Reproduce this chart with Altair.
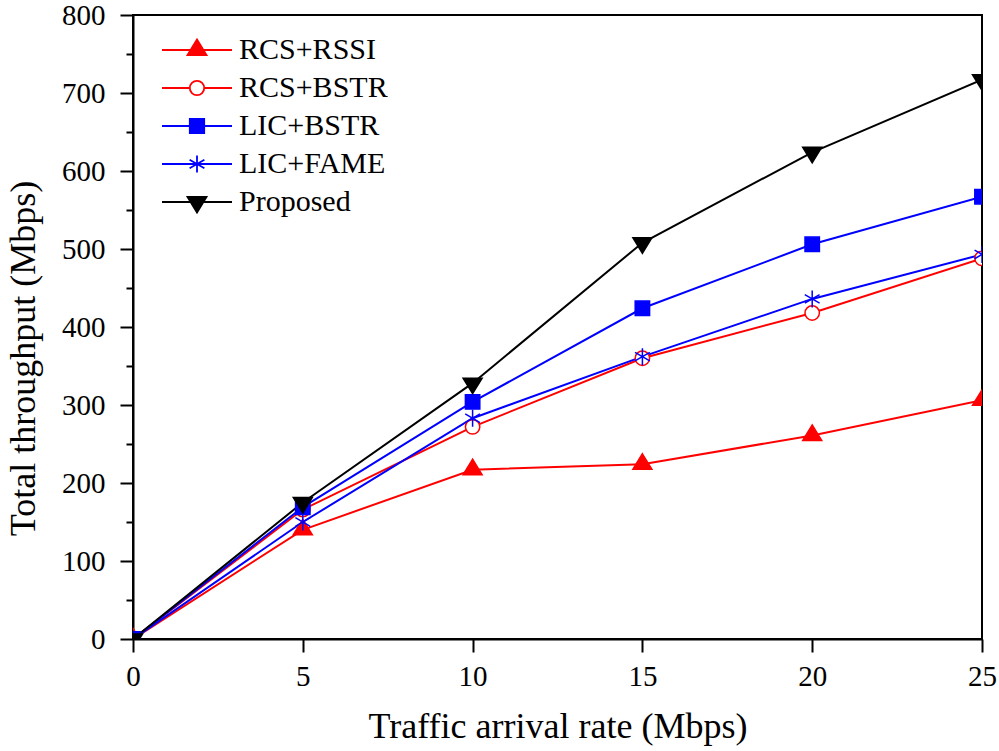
import altair as alt
import pandas as pd

# ---- data ----
rates = [0, 5, 10, 15, 20, 25]
series_names = ["RCS+RSSI", "RCS+BSTR", "LIC+BSTR", "LIC+FAME", "Proposed"]
rcs_rssi = [0, 140, 217, 224, 261, 306]
rcs_bstr = [0, 166, 272, 360, 418, 488]
lic_bstr = [0, 169, 304, 424, 506, 567]
lic_fame = [0, 150, 283, 362, 436, 493]
proposed = [0, 175, 328, 508, 624, 717]
y_major = [0, 100, 200, 300, 400, 500, 600, 700, 800]
y_minor = [50, 150, 250, 350, 450, 550, 650, 750]
x_ticks = [0, 5, 10, 15, 20, 25]

values = [rcs_rssi, rcs_bstr, lic_bstr, lic_fame, proposed]
rows = []
for name, vals in zip(series_names, values):
    for r, v in zip(rates, vals):
        rows.append({"rate": r, "throughput": v, "series": name})
df = pd.DataFrame(rows)

# ---- styles ----
FONT = "Liberation Serif"
stroke_colors = ["#FF0000", "#FF0000", "#0000FF", "#0000FF", "#000000"]
fill_colors = ["#FF0000", "#FFFFFF", "#0000FF", "#FFFFFF", "#000000"]

tri_up = "M0,-1.05L0.95,0.5L-0.95,0.5Z"
circ = "M0.72,0A0.72,0.72,0,1,1,-0.72,0A0.72,0.72,0,1,1,0.72,0Z"
sq = "M-0.72,-0.72H0.72V0.72H-0.72Z"
star = "M0,-0.85V0.85M-0.74,-0.43L0.74,0.43M-0.74,0.43L0.74,-0.43"
tri_dn = "M-0.95,-0.5L0.95,-0.5L0,1.05Z"
marker_paths = [tri_up, circ, sq, star, tri_dn]

full_line = "M-3.5,0H3.5"
split_line = "M-3.5,0H-0.72M0.72,0H3.5"
legend_paths = [full_line + tri_up, split_line + circ, full_line + sq,
                full_line + star, full_line + tri_dn]

x_enc = alt.X("rate:Q",
              scale=alt.Scale(domain=[0, 25], nice=False, zero=False),
              axis=alt.Axis(values=x_ticks, title="Traffic arrival rate (Mbps)",
                            tickSize=13, labelPadding=10, labelFlush=False,
                            titleFontSize=36, titleY=98, titleBaseline="alphabetic",
                            titleFontWeight="normal"))

y_scale = alt.Scale(domain=[0, 800], nice=False)

y_main = alt.Y("throughput:Q", scale=y_scale,
               axis=alt.Axis(values=y_major, orient="left",
                             title="Total throughput (Mbps)",
                             tickSize=13, labelPadding=15, labelFlush=False,
                             titleFontSize=36, titleX=-110, titleY=343,
                             titleAngle=-90, titleBaseline="middle",
                             titleAlign="center", titleFontWeight="normal"))

y_minor_enc = alt.Y("throughput:Q", scale=y_scale,
                    axis=alt.Axis(values=y_minor, orient="left", title=None,
                                  labels=False, domain=False, tickSize=7))

lines = alt.Chart(df).mark_line(strokeWidth=2, clip=True).encode(
    x=x_enc,
    y=y_minor_enc,
    color=alt.Color("series:N", scale=alt.Scale(domain=series_names, range=stroke_colors),
                    legend=None),
)

points = alt.Chart(df).mark_point(size=400, opacity=1, strokeWidth=1.5, clip=True).encode(
    x=x_enc,
    y=y_main,
    shape=alt.Shape("series:N", scale=alt.Scale(domain=series_names, range=marker_paths),
                    legend=None),
    fill=alt.Fill("series:N", scale=alt.Scale(domain=series_names, range=fill_colors),
                  legend=None),
    stroke=alt.Stroke("series:N", scale=alt.Scale(domain=series_names, range=stroke_colors),
                      legend=None),
)

leg = alt.Legend(title=None, orient="none", legendX=49, legendY=20,
                 symbolSize=400, symbolStrokeWidth=1.8, labelOffset=27,
                 labelFont=FONT, labelFontSize=30, labelColor="black",
                 labelLimit=400, rowPadding=8, padding=0)

legend_layer = alt.Chart(df).transform_filter("false").mark_point(opacity=1).encode(
    shape=alt.Shape("series:N", scale=alt.Scale(domain=series_names, range=legend_paths),
                    legend=leg),
    fill=alt.Fill("series:N", scale=alt.Scale(domain=series_names, range=fill_colors),
                  legend=leg),
    stroke=alt.Stroke("series:N", scale=alt.Scale(domain=series_names, range=stroke_colors),
                      legend=leg),
)

chart = alt.layer(lines, points, legend_layer).resolve_scale(
    shape="independent", fill="independent", stroke="independent"
).resolve_axis(y="independent").properties(
    width=849, height=624,
    padding={"left": 133, "top": 15, "right": 17, "bottom": 112},
    autosize=alt.AutoSizeParams(type="none"),
    background="white",
).configure_view(
    stroke="black", strokeWidth=2
).configure_axis(
    grid=False, domainColor="black", domainWidth=2, tickColor="black", tickWidth=2,
    labelFont=FONT, labelFontSize=29, labelColor="black",
    titleFont=FONT, titleColor="black",
)

chart.save("out.html", embed_options={"renderer": "svg", "actions": False})
